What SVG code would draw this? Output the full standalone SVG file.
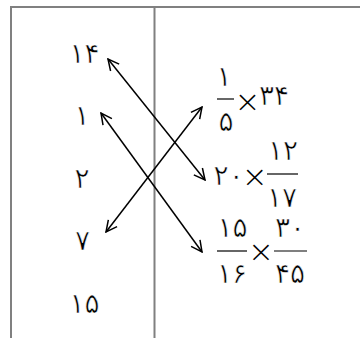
<svg xmlns="http://www.w3.org/2000/svg" width="360" height="338" viewBox="0 0 360 338">
<defs>
<style>
.frame{stroke:#808080;stroke-width:2;fill:none}
.d{font-family:"Liberation Sans","DejaVu Sans",sans-serif;font-size:28px;fill:#000;stroke:#fff;stroke-width:0.6;text-anchor:middle}
.x{font-family:"DejaVu Sans",sans-serif;font-weight:200;font-size:31px;fill:#000;stroke:none;text-anchor:middle}
.bar{stroke:#000;stroke-width:1.2}
.arr{stroke:#000;stroke-width:1.5;fill:none;marker-start:url(#ah);marker-end:url(#ah)}
</style>
<marker id="ah" viewBox="0 0 13 13" refX="12" refY="6.5" markerWidth="13" markerHeight="13" markerUnits="userSpaceOnUse" orient="auto-start-reverse">
<path d="M1,1 L12,6.5 L1,12" fill="none" stroke="#000" stroke-width="1.5"/>
</marker>
</defs>
<g id="frame">
<path class="frame" d="M11,338 V7 H360 M154.5,7 V338"/>
</g>
<g id="left">
<text class="d" x="84.5" y="63">۱۴</text>
<text class="d" x="82" y="125">۱</text>
<text class="d" x="82" y="188">۲</text>
<text class="d" x="82.5" y="250">۷</text>
<text class="d" x="84.5" y="313">۱۵</text>
</g>
<g id="e1">
<text class="d" x="224" y="86">۱</text>
<line class="bar" x1="217" y1="99" x2="234" y2="99"/>
<text class="d" x="226" y="131">۵</text>
<text class="x" x="247.5" y="111.5">×</text>
<text class="d" x="274" y="105">۳۴</text>
</g>
<g id="e2">
<text class="d" x="213.6" y="185" style="text-anchor:start"><tspan style="letter-spacing:-8px">۲۰</tspan><tspan class="x" dx="-2" dy="1.5">×</tspan></text>
<line class="bar" x1="267" y1="174" x2="298" y2="174"/>
<text class="d" x="283" y="160">۱۲</text>
<text class="d" x="282" y="207">۱۷</text>
</g>
<g id="e3">
<text class="d" x="232.5" y="237">۱۵</text>
<line class="bar" x1="217" y1="251" x2="247" y2="251"/>
<text class="d" x="232" y="283">۱۶</text>
<text class="x" x="261" y="261.5">×</text>
<text class="d" x="290" y="237">۳۰</text>
<line class="bar" x1="274" y1="251" x2="307" y2="251"/>
<text class="d" x="290" y="283">۴۵</text>
</g>
<g id="connectors">
<line class="arr" x1="108" y1="59" x2="205" y2="180"/>
<line class="arr" x1="101" y1="113" x2="202" y2="252"/>
<line class="arr" x1="202" y1="107" x2="106" y2="232"/>
</g>
</svg>
